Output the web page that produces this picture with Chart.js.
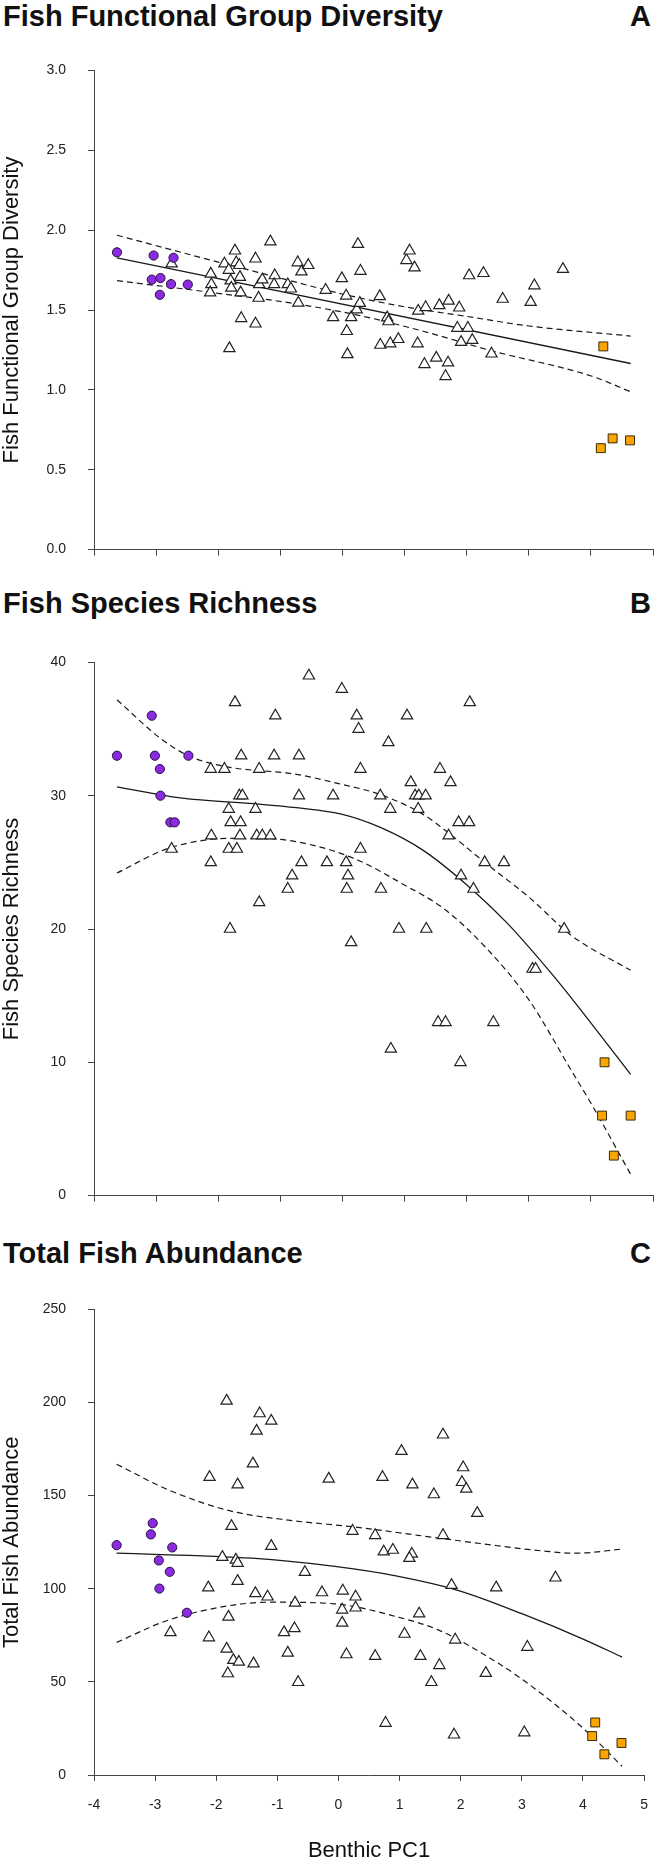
<!DOCTYPE html>
<html>
<head>
<meta charset="utf-8">
<script src="https://cdn.jsdelivr.net/npm/chart.js@4.4.1/dist/chart.umd.min.js"></script>
<style>
body { margin: 0; background: #fff; }
#wrap { position: relative; width: 664px; height: 1868px; font-family: 'Liberation Sans', Arial, sans-serif; }
.titolo { position: absolute; left: 3px; font-weight: bold; font-size: 29px; line-height: 29px; color: #111; white-space: nowrap; }
.lettera { position: absolute; right: 13px; font-weight: bold; font-size: 29px; line-height: 29px; color: #111; }
canvas { position: absolute; left: 0; }
</style>
</head>
<body>
<div id="wrap">
    <div class="titolo" style="top:2px">Fish Functional Group Diversity</div>
    <div class="lettera" style="top:2px">A</div>
    <canvas id="graficoA" width="664" height="540" style="top:40px"></canvas>

    <div class="titolo" style="top:589px">Fish Species Richness</div>
    <div class="lettera" style="top:589px">B</div>
    <canvas id="graficoB" width="664" height="594" style="top:632px"></canvas>

    <div class="titolo" style="top:1239px">Total Fish Abundance</div>
    <div class="lettera" style="top:1239px">C</div>
    <canvas id="graficoC" width="664" height="589" style="top:1279px"></canvas>
</div>

<script>
var font = "'Liberation Sans', Arial, sans-serif";

// --- A: functional group diversity ---
var fgdTriX = [-2.75,-2.12,-2.11,-2.13,-1.90,-1.73,-1.71,-1.66,-1.83,-1.65,-1.80,-1.79,-1.64,-1.82,-1.63,-1.40,-1.40,-1.34,-1.35,-1.29,-1.16,-1.09,-1.10,-0.88,-0.83,-0.72,-0.66,-0.55,-0.71,-0.27,-0.15,-0.01,0.06,0.07,0.08,0.14,0.23,0.28,0.25,0.29,0.60,0.61,0.72,0.74,0.77,0.90,1.03,1.08,1.16,1.22,1.21,1.34,1.32,1.51,1.56,1.71,1.70,1.66,1.88,1.85,2.02,1.91,2.09,2.04,2.27,2.40,2.58,3.03,3.09,3.55];
var fgdTriY = [1.79,1.726,1.66,1.609,1.79,1.871,1.797,1.78,1.75,1.706,1.684,1.638,1.609,1.26,1.448,1.821,1.414,1.66,1.575,1.69,1.928,1.716,1.66,1.66,1.633,1.797,1.74,1.78,1.544,1.625,1.454,1.698,1.589,1.367,1.222,1.454,1.502,1.543,1.912,1.744,1.585,1.281,1.452,1.428,1.29,1.317,1.811,1.871,1.765,1.494,1.29,1.517,1.16,1.2,1.529,1.557,1.17,1.085,1.514,1.387,1.387,1.299,1.311,1.716,1.73,1.226,1.569,1.549,1.653,1.756];
var fgdCircX = [-3.63,-3.04,-2.72,-3.07,-2.93,-2.76,-2.49,-2.94];
var fgdCircY = [1.861,1.841,1.827,1.690,1.700,1.662,1.659,1.595];
var fgdSqX = [4.20,4.16,4.35,4.63];
var fgdSqY = [1.272,0.635,0.696,0.684];
var fgdFitX = [-3.63,4.64];
var fgdFitY = [1.827,1.165];
var fgdUpX = [-3.63,-2,-1,0,1,2,3,4.64];
var fgdUpY = [1.968,1.80,1.70,1.60,1.52,1.46,1.40,1.337];
var fgdLoX = [-3.63,-2.09,-0.75,0.28,1.30,2.39,4.02,4.64];
var fgdLoY = [1.684,1.609,1.539,1.465,1.367,1.246,1.085,0.988];

// --- B: species richness ---
var ricTriX = [-0.54,-0.01,-1.73,2.05,-1.08,0.23,1.04,0.26,0.74,-1.63,-1.10,-0.70,-2.12,-1.90,-1.34,0.29,1.57,1.10,1.74,-1.66,-1.61,-0.70,-0.15,0.61,1.17,1.23,1.34,-1.83,-1.40,0.77,1.22,-1.80,-1.64,1.87,2.04,-2.11,-1.65,-1.38,-1.29,-1.16,1.71,-2.75,-1.83,-1.70,0.29,-2.12,-0.66,-0.25,0.06,2.29,2.60,-0.81,0.09,1.91,-0.88,0.07,0.62,2.11,-1.34,-1.81,0.91,1.35,3.57,0.14,3.06,3.11,1.54,1.66,2.43,0.78,1.90];
var ricTriY = [39,38,37,37,36,36,36,35,34,33,33,33,32,32,32,32,32,31,31,30,30,30,30,30,30,30,30,29,29,29,29,28,28,28,28,27,27,27,27,27,27,26,26,26,26,25,25,25,25,25,25,24,24,24,23,23,23,23,22,20,20,20,20,19,17,17,13,13,13,11,10];
var ricCircX = [-3.63,-3.07,-3.02,-2.48,-2.94,-2.93,-2.77,-2.70];
var ricCircY = [33,36,33,33,32,30,28,28];
var ricSqX = [4.22,4.18,4.64,4.37];
var ricSqY = [10,6,6,3];
var ricFitX = [-3.63,-2.58,-1.42,-0.74,0.0,0.62,1.30,1.98,2.66,3.34,3.69,4.64];
var ricFitY = [30.67,29.82,29.4,29.1,28.6,27.6,25.9,23.4,20.4,16.8,14.8,9.1];
var ricUpX = [-3.63,-2.93,-2.48,-1.90,-0.74,-0.06,0.62,1.30,1.71,2.33,3.0,3.69,4.64];
var ricUpY = [37.2,34.3,33.0,32.2,31.6,30.9,30.07,28.6,27.2,24.85,22.4,19.5,16.9];
var ricLoX = [-3.63,-2.79,-1.77,-1.29,-0.40,0.28,0.96,1.64,2.32,3.0,3.69,4.03,4.64];
var ricLoY = [24.2,26.07,26.8,26.8,26.2,25.1,23.4,21.5,18.55,14.7,9.35,6.7,1.6];

// --- C: total abundance ---
var abbTriX = [-1.83,-1.29,-1.10,-1.34,1.71,1.03,-1.40,2.04,-2.11,-0.16,0.72,-1.65,1.21,2.02,2.09,1.56,2.27,-1.75,0.23,0.60,1.71,-1.10,0.74,0.89,1.20,1.16,-1.90,-1.68,-1.65,-0.55,3.55,-1.65,-2.13,1.85,2.58,-0.27,0.07,-1.36,-1.16,0.28,-0.71,0.06,0.28,1.32,-1.80,0.06,-2.75,-0.89,-0.72,1.08,-2.12,1.91,3.09,-1.83,-0.83,0.13,0.60,1.34,-1.72,-1.63,-1.39,1.65,-1.81,2.41,-0.66,1.52,0.77,1.89,3.04];
var abbTriY = [200.9,194.1,190.1,184.8,182.7,173.9,167.2,165.1,159.9,159.0,159.9,155.9,155.9,157.2,153.6,150.6,140.6,133.6,131.0,128.7,128.7,122.9,119.9,120.8,118.7,116.4,117.0,115.5,113.8,108.9,105.9,104.1,100.6,101.9,100.6,98.0,98.9,97.5,95.7,95.7,92.4,88.7,89.8,86.6,84.9,81.7,76.6,76.6,78.7,75.7,73.8,72.6,68.7,67.7,65.6,64.7,63.8,63.8,61.7,60.7,59.8,58.9,54.5,54.7,49.8,49.8,27.9,21.6,22.8];
var abbCircX = [-3.63,-3.04,-3.07,-2.72,-2.94,-2.76,-2.93,-2.48];
var abbCircY = [123.4,135.2,129.2,122.2,115.2,109.1,100.1,87.1];
var abbSqX = [4.20,4.15,4.35,4.63];
var abbSqY = [28.2,20.9,11.1,17.2];
var abbFitX = [-3.63,-1.42,-0.06,0.96,1.98,3.0,4.03,4.64];
var abbFitY = [119.1,116.4,112.0,106.8,98.9,86.6,72.6,63.3];
var abbUpX = [-3.63,-2.79,-1.77,-0.75,0.28,1.30,2.32,3.34,3.89,4.64];
var abbUpY = [166.9,153.2,141.8,136.6,133.1,128.7,124.3,120.3,119.1,121.3];
var abbLoX = [-3.63,-2.79,-1.77,-1.09,-0.06,0.96,1.64,2.60,3.0,3.69,4.17,4.64];
var abbLoY = [71.2,83.1,91.0,92.8,91.9,84.9,77.8,60.3,51.5,34.0,20.0,4.6];

var xTicks = [-4,-3,-2,-1,0,1,2,3,4,5];


function punti(xs, ys) {
    var out = [];
    for (var i = 0; i < xs.length; i++) {
        out.push({x: xs[i], y: ys[i]});
    }
    return out;
}

function linea(xs, ys, tratteggio) {
    return {
        data: punti(xs, ys),
        showLine: true,
        pointRadius: 0,
        borderColor: '#1a1a1a',
        borderWidth: tratteggio ? 1.2 : 1.3,
        borderDash: tratteggio ? [6, 4] : [],
        cubicInterpolationMode: 'monotone',
        fill: false
    };
}

function stampaGrafico(id, serie, yTitolo, yMin, yMax, yPasso, decimali, conEtichette, xAltezza) {
    var ctx = document.getElementById(id);
    var griglia = { drawOnChartArea: false, drawTicks: true, tickLength: 6, color: '#444', lineWidth: 1 };
    var bordo = { display: true, color: '#444', width: 1 };

    new Chart(ctx, {
        type: 'scatter',
        data: {
            datasets: [
                { data: punti(serie.sqX, serie.sqY), pointStyle: 'rect', pointRadius: 6.3, pointBackgroundColor: '#f9a602', pointBorderColor: '#3b2a05', pointBorderWidth: 1 },
                { data: punti(serie.circX, serie.circY), pointStyle: 'circle', pointRadius: 4.6, pointBackgroundColor: '#8a2be2', pointBorderColor: '#2a1040', pointBorderWidth: 1 },
                { data: punti(serie.triX, serie.triY), pointStyle: 'triangle', pointRadius: 6.5, pointBackgroundColor: '#ffffff', pointBorderColor: '#222', pointBorderWidth: 1.2 },
                linea(serie.fitX, serie.fitY, false),
                linea(serie.upX, serie.upY, true),
                linea(serie.loX, serie.loY, true)
            ]
        },
        options: {
            responsive: false,
            animation: false,
            layout: { autoPadding: false, padding: { top: 20, right: 11, bottom: 0, left: 0 } },
            plugins: { legend: { display: false }, tooltip: { enabled: false } },
            scales: {
                x: {
                    type: 'linear', min: -4, max: 5,
                    afterBuildTicks: function (s) { s.ticks = xTicks.map(function (v) { return {value: v}; }); },
                    ticks: { display: conEtichette, padding: 16, color: '#222', font: { family: font, size: 14 } },
                    grid: griglia,
                    border: bordo,
                    title: { display: conEtichette, text: 'Benthic PC1', color: '#111', font: { family: font, size: 22 }, padding: { top: 0, bottom: 4 } },
                    afterFit: function (s) { s.height = xAltezza; }
                },
                y: {
                    min: yMin, max: yMax,
                    ticks: { stepSize: yPasso, padding: 22, color: '#222', font: { family: font, size: 14 },
                        callback: function (v) { return Number(v).toFixed(decimali); } },
                    grid: griglia,
                    border: bordo,
                    title: { display: true, text: yTitolo, color: '#111', font: { family: font, size: 22, lineHeight: 1.1 }, padding: { top: 0, bottom: 0 } },
                    afterFit: function (s) { s.width = 94; }
                }
            }
        }
    });
}

stampaGrafico('graficoA', {
    triX: fgdTriX, triY: fgdTriY, circX: fgdCircX, circY: fgdCircY, sqX: fgdSqX, sqY: fgdSqY,
    fitX: fgdFitX, fitY: fgdFitY, upX: fgdUpX, upY: fgdUpY, loX: fgdLoX, loY: fgdLoY
}, 'Fish Functional Group Diversity', 0, 3, 0.5, 1, false, 24);

stampaGrafico('graficoB', {
    triX: ricTriX, triY: ricTriY, circX: ricCircX, circY: ricCircY, sqX: ricSqX, sqY: ricSqY,
    fitX: ricFitX, fitY: ricFitY, upX: ricUpX, upY: ricUpY, loX: ricLoX, loY: ricLoY
}, 'Fish Species Richness', 0, 40, 10, 0, false, 24);

stampaGrafico('graficoC', {
    triX: abbTriX, triY: abbTriY, circX: abbCircX, circY: abbCircY, sqX: abbSqX, sqY: abbSqY,
    fitX: abbFitX, fitY: abbFitY, upX: abbUpX, upY: abbUpY, loX: abbLoX, loY: abbLoY
}, 'Total Fish Abundance', 0, 250, 50, 0, true, 93);
</script>
</body>
</html>
